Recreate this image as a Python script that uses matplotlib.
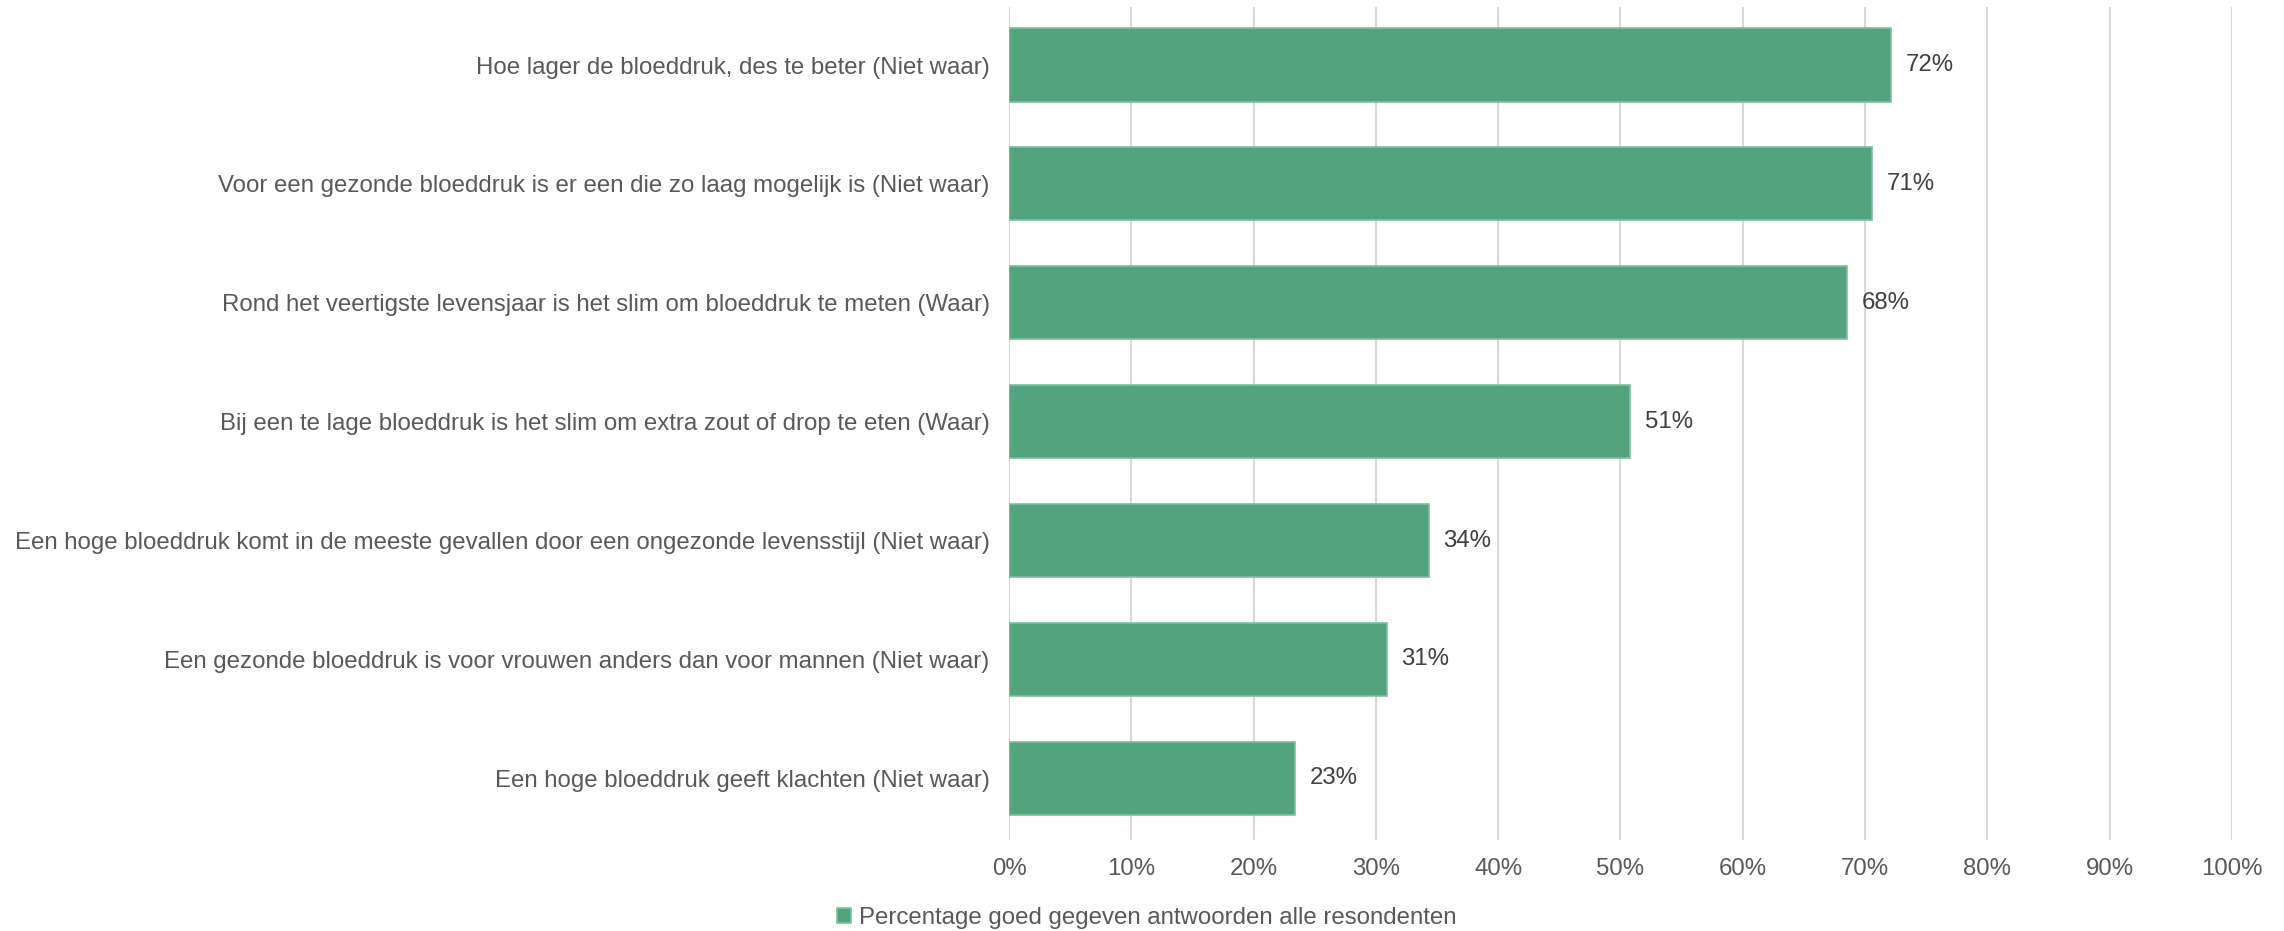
import matplotlib.pyplot as plt
from matplotlib.ticker import PercentFormatter

plt.rcParams['font.family'] = ['Liberation Sans', 'DejaVu Sans']

statements = [
    'Hoe lager de bloeddruk, des te beter (Niet waar)',
    'Voor een gezonde bloeddruk is er een die zo laag mogelijk is (Niet waar)',
    'Rond het veertigste levensjaar is het slim om bloeddruk te meten (Waar)',
    'Bij een te lage bloeddruk is het slim om extra zout of drop te eten (Waar)',
    'Een hoge bloeddruk komt in de meeste gevallen door een ongezonde levensstijl (Niet waar)',
    'Een gezonde bloeddruk is voor vrouwen anders dan voor mannen (Niet waar)',
    'Een hoge bloeddruk geeft klachten (Niet waar)',
]
pct_correct = [72.1, 70.6, 68.5, 50.8, 34.3, 30.9, 23.4]
series_name = 'Percentage goed gegeven antwoorden alle resondenten'

green = '#52A37E'
fs = 17.3

fig = plt.figure(figsize=(22.84, 9.31), dpi=100)
ax = fig.add_axes([0.4418, 0.0977, 0.5354, 0.895])

ypos = list(range(len(statements)))
bars = ax.barh(ypos, pct_correct, height=0.615, color=green,
               edgecolor='#7DBF9F', linewidth=1.2, label=series_name, zorder=3)
ax.set_yticks(ypos)
ax.set_yticklabels(statements, fontsize=fs, color='#595959')
ax.set_ylim(6.52, -0.49)

for b, v in zip(bars, pct_correct):
    ax.text(b.get_width() + 1.2, b.get_y() + b.get_height() / 2, f'{v:.0f}%',
            va='center', ha='left', fontsize=fs, color='#404040')

ax.set_xlim(0, 100)
ax.set_xticks(range(0, 101, 10))
ax.xaxis.set_major_formatter(PercentFormatter(decimals=0))
ax.tick_params(axis='x', labelsize=fs, labelcolor='#595959', length=0, pad=13)
ax.tick_params(axis='y', length=0, pad=14)
ax.grid(axis='x', color='#D9D9D9', linewidth=1.5, zorder=0)
for s in ax.spines.values():
    s.set_visible(False)

fig.legend(loc='lower center', bbox_to_anchor=(0.502, 0.002), frameon=False,
           fontsize=fs, labelcolor='#595959', handlelength=0.6, handleheight=0.6,
           handletextpad=0.3, borderpad=0, borderaxespad=0)

fig.savefig('out.png', dpi=100)
